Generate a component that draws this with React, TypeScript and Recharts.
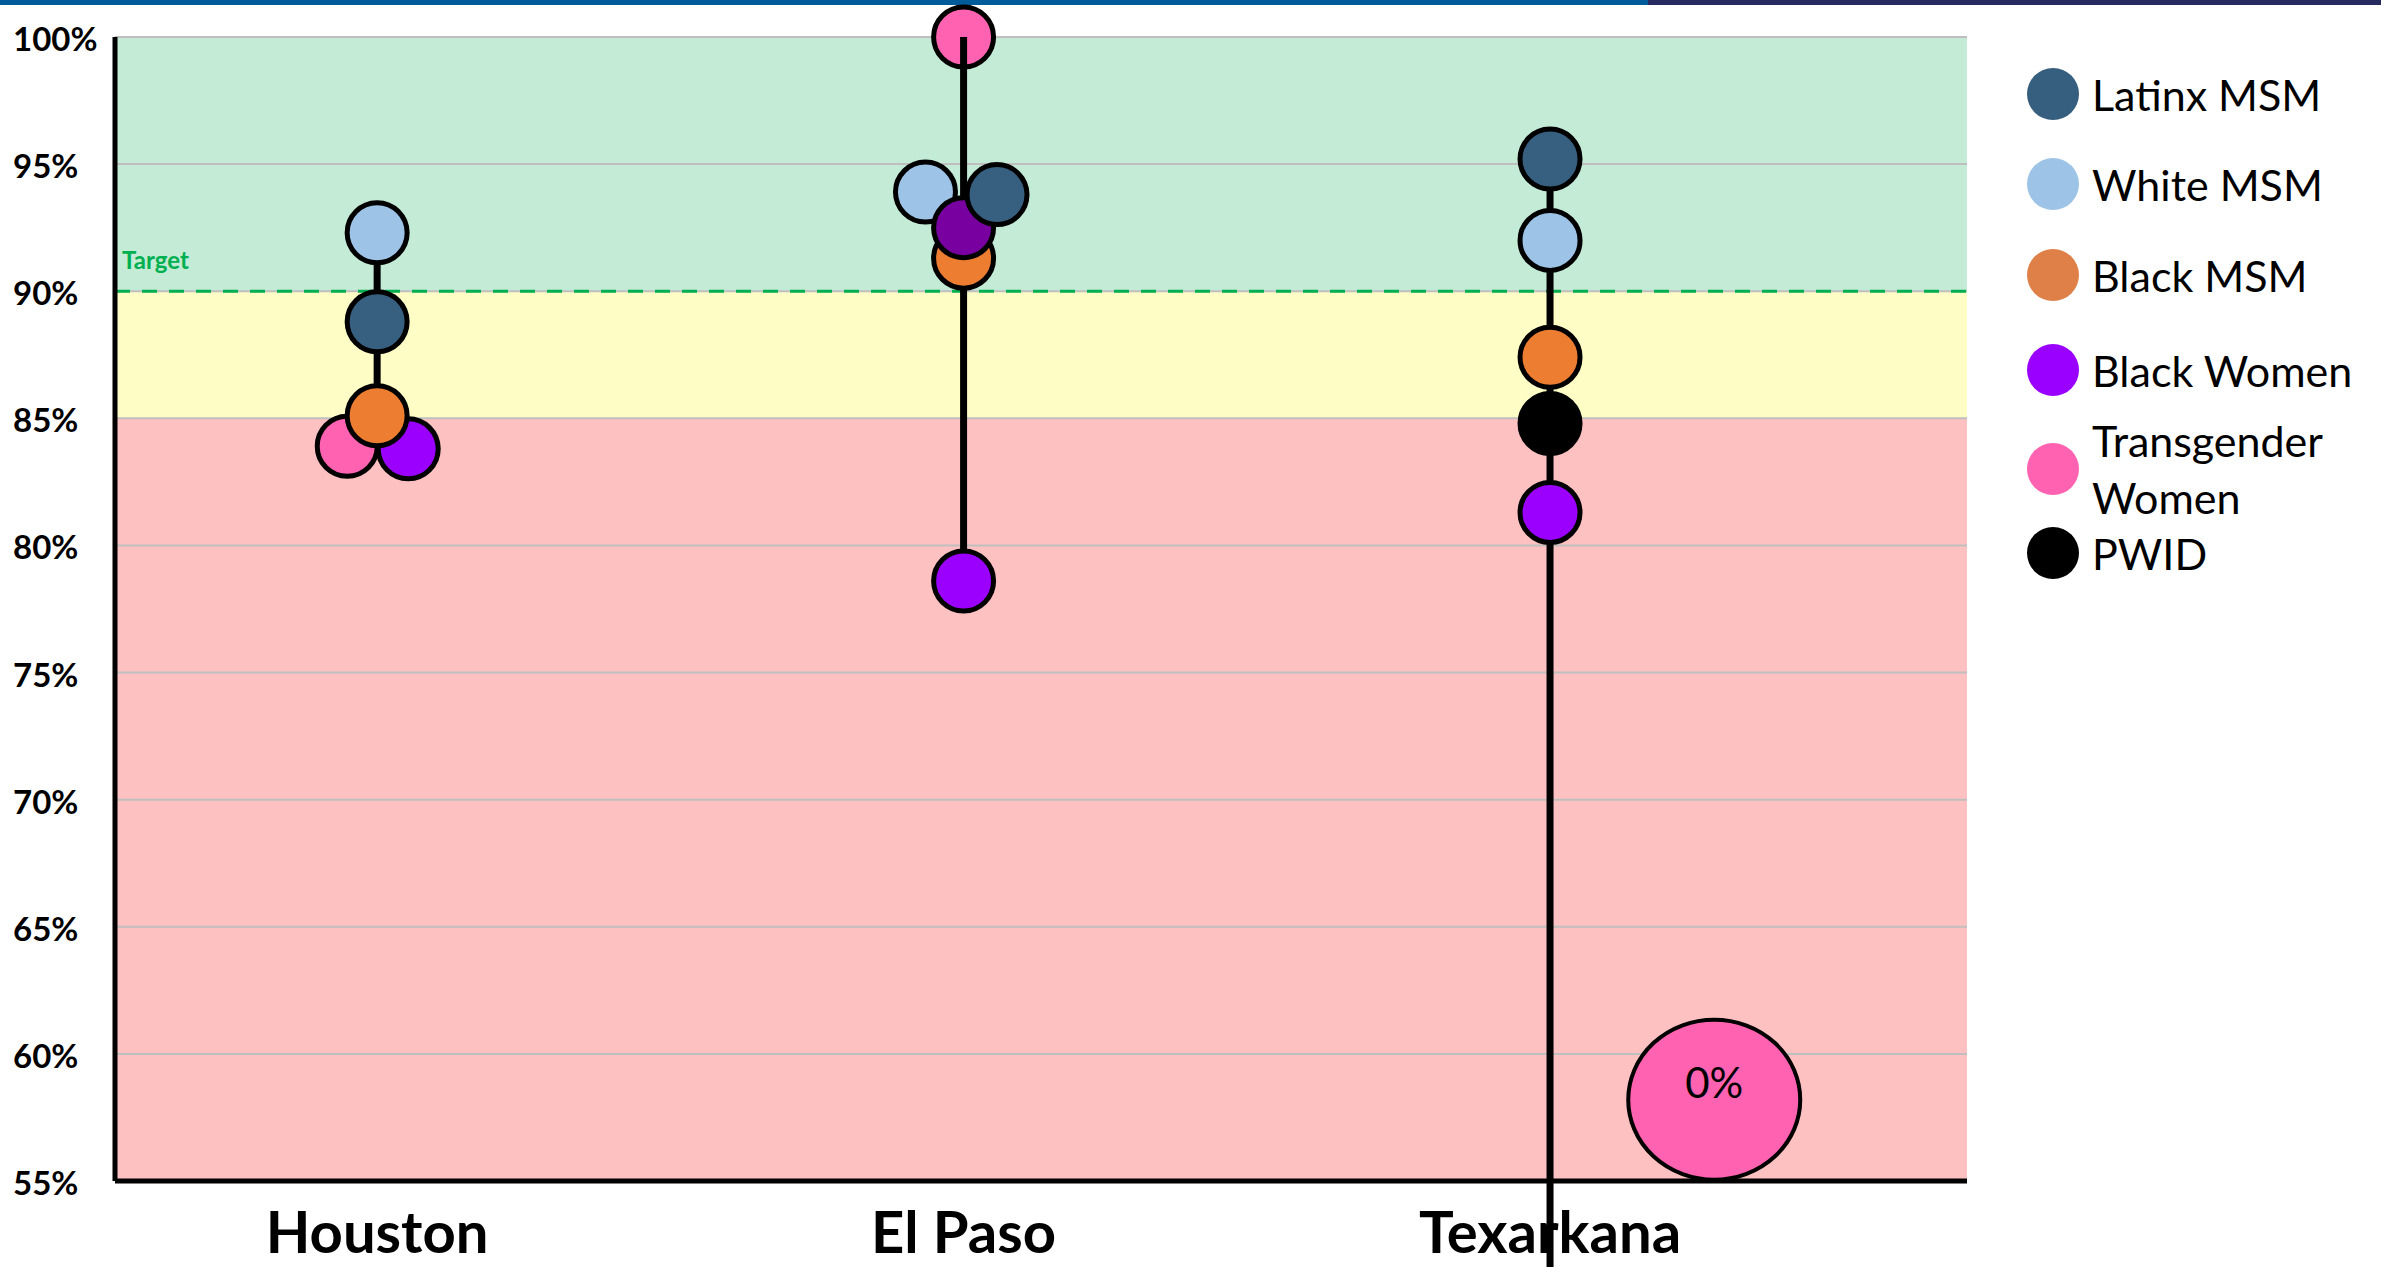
import React from "react";
import {
    ScatterChart,
    Scatter,
    XAxis,
    YAxis,
    CartesianGrid,
    ReferenceArea,
    ReferenceLine,
    ReferenceDot,
} from "recharts";

const cities = ["Houston", "El Paso", "Texarkana"];
const cityPos = [1, 2, 3];
const yTicks = [55, 60, 65, 70, 75, 80, 85, 90, 95, 100];

// values per city: Houston, El Paso, Texarkana
const latinxMSM = [88.8, 93.8, 95.2];
const whiteMSM = [92.3, 93.9, 92.0];
const blackMSM = [85.1, 91.3, 87.4];
const blackWomen = [83.8, 78.6, 81.3];
const transWomen = [83.9, 100, 0];
const pwid = [null, 92.5, 84.8];

// small sideways nudges where two groups share the same value
const latinxNudge = [0, 0.057, 0];
const whiteNudge = [0, -0.065, 0];
const blackWomenNudge = [0.053, 0, 0];
const transNudge = [-0.051, 0, 0];
const noNudge = [0, 0, 0];

const pwidColors = ["#000000", "#7800a0", "#000000"];

const target = 90;
const bandEdges = [55, 85, 90, 100];
const bandColors = ["#fec1c1", "#fefdc6", "#c3ebd6"];

// Texarkana transgender women sit at 0%, off the scale: shown as a bubble
const zeroNote = { x: 3.28, y: 58.2, text: "0%" };

const Y_MIN = 55;
const Y_MAX = 100;

const series = [
    { name: "Transgender Women", values: transWomen, nudge: transNudge, color: "#ff62b0", legend: "#ff62b0" },
    { name: "Black Women", values: blackWomen, nudge: blackWomenNudge, color: "#9b00ff", legend: "#9900ff" },
    { name: "White MSM", values: whiteMSM, nudge: whiteNudge, color: "#9dc3e6", legend: "#9dc3e6" },
    { name: "Black MSM", values: blackMSM, nudge: noNudge, color: "#ed7d31", legend: "#df8049" },
    { name: "PWID", values: pwid, nudge: noNudge, color: "#000000", legend: "#000000", colors: pwidColors },
    { name: "Latinx MSM", values: latinxMSM, nudge: latinxNudge, color: "#375f80", legend: "#365e7e" },
];

const legendOrder = ["Latinx MSM", "White MSM", "Black MSM", "Black Women", "Transgender Women", "PWID"];
const legendRowHeights = [90, 90, 92, 98, 100, 68];

function points(s: any) {
    return s.values
        .map((v: number | null, i: number) =>
            v == null || v < Y_MIN
                ? null
                : { x: cityPos[i] + s.nudge[i], y: v, fill: s.colors ? s.colors[i] : s.color }
        )
        .filter(Boolean);
}

// vertical connector through every un-nudged point of a city
const connectors = cityPos.map((pos, i) => {
    const vals = series
        .filter((s) => s.nudge[i] === 0 && s.values[i] != null)
        .map((s) => s.values[i] as number);
    return { x: pos, top: Math.max(...vals), bottom: Math.min(...vals) };
});

const Dot = (p: any) => (
    <circle cx={p.cx} cy={p.cy} r={30} fill={p.payload.fill} stroke="#000" strokeWidth={5} />
);

const YTick = ({ y, payload }: any) => (
    <text x={13} y={y + 14} fontFamily="Lato" fontWeight={700} fontSize={33} fill="#000">
        {payload.value}%
    </text>
);

const XTick = ({ x, y, payload }: any) => (
    <text x={x} y={y + 64} textAnchor="middle" fontFamily="Lato" fontWeight={700} fontSize={58} fill="#000">
        {cities[cityPos.indexOf(payload.value)]}
    </text>
);

const TargetLabel = (props: any) => (
    <text
        x={props.viewBox.x + 7}
        y={props.viewBox.y - 22}
        fontFamily="Lato"
        fontWeight={700}
        fontSize={24}
        fill="#00b050"
    >
        Target
    </text>
);

const Bubble = (p: any) => (
    <g>
        <ellipse cx={p.cx} cy={p.cy} rx={86} ry={80} fill="#ff62b0" stroke="#000" strokeWidth={4} />
        <text x={p.cx} y={p.cy - 2} textAnchor="middle" fontFamily="Lato" fontSize={42} fill="#000">
            {zeroNote.text}
        </text>
    </g>
);

function Legend() {
    return (
        <div style={{ position: "absolute", left: 2027, top: 49, fontFamily: "Lato", fontSize: 43, color: "#000" }}>
            {legendOrder.map((name, k) => {
                const s = series.find((d) => d.name === name)!;
                const twoLine = name === "Transgender Women";
                return (
                    <div key={name} style={{ display: "flex", alignItems: "center", height: legendRowHeights[k] }}>
                        <div style={{ width: 52, height: 52, borderRadius: "50%", background: s.legend }} />
                        <div style={{ marginLeft: 13, lineHeight: "57px" }}>
                            {twoLine ? (
                                <>
                                    Transgender
                                    <br />
                                    Women
                                </>
                            ) : (
                                name
                            )}
                        </div>
                    </div>
                );
            })}
        </div>
    );
}

export default function App() {
    return (
        <div style={{ position: "absolute", left: 0, top: 0, width: 2381, height: 1267, background: "#fff" }}>
            <div style={{ position: "absolute", left: 0, top: 0, width: 1648, height: 5, background: "#005b9a" }} />
            <div style={{ position: "absolute", left: 1648, top: 0, width: 733, height: 5, background: "#262a61" }} />
            <ScatterChart width={2381} height={1267} margin={{ top: 37, right: 414, bottom: 0, left: 0 }}>
                {bandColors.map((c, i) => (
                    <ReferenceArea
                        key={i}
                        y1={bandEdges[i]}
                        y2={bandEdges[i + 1]}
                        fill={c}
                        fillOpacity={1}
                        stroke="none"
                        zIndex={-200}
                    />
                ))}
                <CartesianGrid vertical={false} stroke="#bfbfbf" strokeWidth={2} />
                <XAxis
                    type="number"
                    dataKey="x"
                    domain={[0.553, 3.711]}
                    ticks={cityPos}
                    tick={<XTick />}
                    tickLine={false}
                    axisLine={{ stroke: "#000", strokeWidth: 5 }}
                    height={86}
                />
                <YAxis
                    type="number"
                    dataKey="y"
                    domain={[Y_MIN, Y_MAX]}
                    ticks={yTicks}
                    tick={<YTick />}
                    tickLine={false}
                    axisLine={{ stroke: "#000", strokeWidth: 5 }}
                    width={115}
                />
                <ReferenceLine
                    y={target}
                    stroke="#00b050"
                    strokeWidth={3}
                    strokeDasharray="15 12"
                    label={TargetLabel}
                    zIndex={-50}
                />
                <Scatter
                    name={series[0].name}
                    data={points(series[0])}
                    shape={Dot}
                    isAnimationActive={false}
                    zIndex={580}
                />
                {connectors.map((c, i) => (
                    <ReferenceLine
                        key={i}
                        segment={[
                            { x: c.x, y: c.top },
                            { x: c.x, y: c.bottom },
                        ]}
                        stroke="#000"
                        strokeWidth={7}
                        ifOverflow="visible"
                        zIndex={590}
                    />
                ))}
                {series.slice(1).map((s, i) => (
                    <Scatter
                        key={s.name}
                        name={s.name}
                        data={points(s)}
                        shape={Dot}
                        isAnimationActive={false}
                        zIndex={600 + i}
                    />
                ))}
                <ReferenceDot x={zeroNote.x} y={zeroNote.y} shape={Bubble} zIndex={700} />
            </ScatterChart>
            <Legend />
        </div>
    );
}
